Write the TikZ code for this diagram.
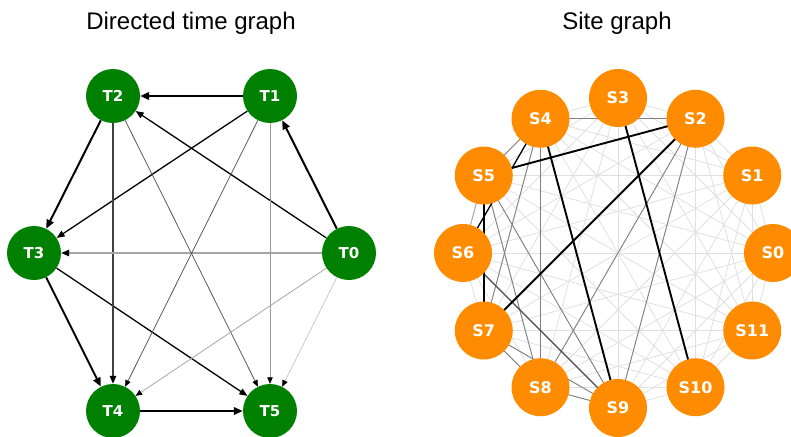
\documentclass[tikz,border=0pt]{standalone}
\usepackage{fontspec}
\setmainfont{Liberation Sans}
\newfontfamily\lblfont{DejaVu Sans}
\usetikzlibrary{arrows.meta,backgrounds}
\definecolor{tgreen}{HTML}{008000}
\definecolor{sorange}{HTML}{FF8C00}
\begin{document}
\begin{tikzpicture}[x=1pt,y=-1pt,
  tnode/.style={circle,fill=tgreen,minimum size=54pt,inner sep=0pt,text=white,font=\lblfont\bfseries\fontsize{15}{17}\selectfont},
  snode/.style={circle,fill=sorange,minimum size=58pt,inner sep=0pt,text=white,font=\lblfont\bfseries\fontsize{16}{18}\selectfont},
  title/.style={font=\fontsize{24}{28}\selectfont,anchor=base},
  bigarr/.style={line width=2pt,black,-{Triangle[length=9pt,width=7.5pt,color=black]}},
  midarr/.style={line width=1.3pt,#1,-{Triangle[length=8pt,width=6.5pt,color=black]}},
  thinarr/.style={line width=0.8pt,#1,-{Triangle[length=6.5pt,width=5.5pt,color=black]}},
  bgedge/.style={line width=0.8pt,black!12},
  gedge/.style={line width=0.9pt,black!50},
  dedge/.style={line width=1.3pt,#1},
  kedge/.style={line width=1.9pt,black}
]
\path[use as bounding box] (0,0) rectangle (791,436);

\node[title] (t1) at (191,30) {Directed time graph};
\node[title] (t2) at (617,30) {Site graph};

% time graph nodes
\node[tnode] (T0) at (349,253) {T0};
\node[tnode] (T1) at (270,96) {T1};
\node[tnode] (T2) at (113,96) {T2};
\node[tnode] (T3) at (34,253) {T3};
\node[tnode] (T4) at (113,411) {T4};
\node[tnode] (T5) at (270,411) {T5};
\begin{pgfonlayer}{background}
\draw[bigarr] (T0) -- (T1);
\draw[bigarr] (T1) -- (T2);
\draw[bigarr] (T2) -- (T3);
\draw[bigarr] (T3) -- (T4);
\draw[bigarr] (T4) -- (T5);
\draw[midarr=black] (T0) -- (T2);
\draw[midarr=black] (T1) -- (T3);
\draw[midarr=black] (T3) -- (T5);
\draw[midarr=black!75] (T2) -- (T4);
\draw[midarr=black!35] (T0) -- (T3);
\draw[thinarr=black!65] (T1) -- (T4);
\draw[thinarr=black!65] (T2) -- (T5);
\draw[thinarr=black!40] (T1) -- (T5);
\draw[thinarr=black!35] (T0) -- (T4);
\draw[thinarr=black!22] (T0) -- (T5);
\end{pgfonlayer}

% site graph nodes
\foreach \k in {0,...,11}{
  \node[snode] (S\k) at ({618+155*cos(30*\k)},{253-155*sin(30*\k)}) {S\k};
}
\begin{pgfonlayer}{background}
\foreach \i in {0,...,10}{
  \pgfmathtruncatemacro\jstart{\i+1}
  \foreach \j in {\jstart,...,11}{
    \draw[bgedge] (S\i.center) -- (S\j.center);
  }
}
\draw[gedge] (S4.center) -- (S5.center);
\draw[gedge] (S4.center) -- (S2.center);
\draw[gedge] (S4.center) -- (S7.center);
\draw[gedge] (S4.center) -- (S8.center);
\draw[gedge] (S5.center) -- (S8.center);
\draw[gedge] (S5.center) -- (S9.center);
\draw[gedge] (S2.center) -- (S8.center);
\draw[gedge] (S2.center) -- (S9.center);
\draw[gedge] (S7.center) -- (S8.center);
\draw[gedge] (S7.center) -- (S9.center);
\draw[gedge] (S8.center) -- (S9.center);
\draw[gedge,black!35] (S5.center) -- (S6.center);
\draw[dedge=black] (S4.center) -- (S6.center);
\draw[dedge=black!70] (S6.center) -- (S9.center);
\draw[kedge] (S2.center) -- (S5.center);
\draw[kedge] (S2.center) -- (S7.center);
\draw[kedge] (S3.center) -- (S10.center);
\draw[kedge] (S4.center) -- (S9.center);
\draw[kedge] (S5.center) -- (S7.center);
\end{pgfonlayer}
\end{tikzpicture}
\end{document}
